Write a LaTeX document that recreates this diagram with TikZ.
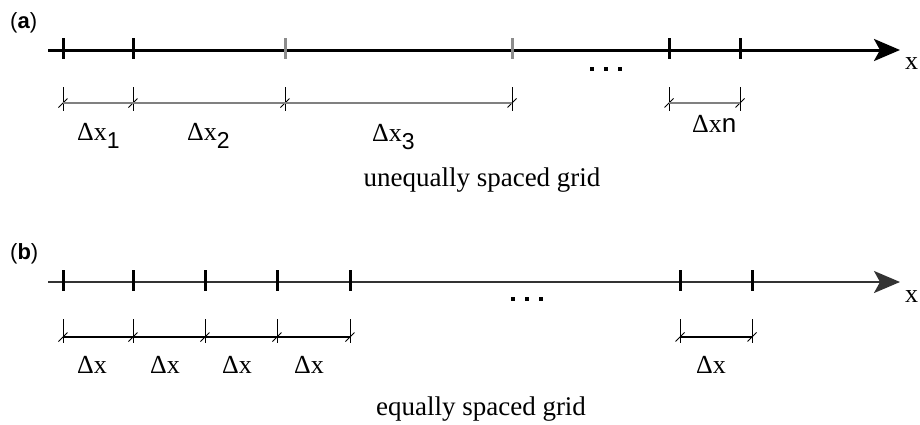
\documentclass[tikz,border=0pt]{standalone}
\usepackage{fontspec}
\setmainfont{Liberation Serif}
\setsansfont{Liberation Sans}
\usetikzlibrary{arrows.meta}
\newcommand{\sub}[1]{\raisebox{-8pt}{\sffamily\fontsize{23}{23}\selectfont #1}}
\begin{document}
\begin{tikzpicture}[x=1pt,y=-1pt,
  axisA/.style={line width=3pt,black,-{Stealth[length=26pt,width=22pt,inset=6pt]}},
  axisB/.style={line width=2pt,black!80,-{Stealth[length=26pt,width=22pt,inset=6pt]}},
  tickmark/.style={line width=3pt,black},
  graytick/.style={line width=3pt,black!45},
  extline/.style={line width=0.9pt,black},
  dimA/.style={line width=1.6pt,black!50},
  dimB/.style={line width=1.4pt,black},
  slash/.style={line width=1pt,black},
  lab/.style={font=\fontsize{26}{26}\selectfont,inner sep=0pt,anchor=base west},
  captext/.style={font=\fontsize{27}{27}\selectfont,inner sep=0pt,anchor=base},
  panel/.style={font=\sffamily\fontsize{22}{22}\selectfont,inner sep=0pt,anchor=north west},
  xlab/.style={font=\fontsize{26}{26}\selectfont,inner sep=0pt,anchor=base west},
  dotfill/.style={fill=black}
]
\useasboundingbox (0,0) rectangle (920,424);

% ---------- panel (a) ----------
\node[panel] (pa) at (10,12) {(\textbf{a})};
\coordinate (a0) at (48,50);
\coordinate (a9) at (900,50);
\draw[axisA] (a0) -- (a9);
\node[xlab] (xa) at (905,69) {x};
\foreach \n/\x in {1/63,2/133,5/669,6/740}{
  \coordinate (at\n) at (\x,50);
  \draw[tickmark] (\x,38) -- (\x,59);
}
\foreach \n/\x in {3/285,4/512}{
  \coordinate (at\n) at (\x,50);
  \draw[graytick] (\x,38) -- (\x,59);
}
\foreach \x in {592,606,620}{\fill[dotfill] (\x-1.8,67.2) rectangle (\x+1.8,70.8);}
% dimension marks
\foreach \n/\x in {1/63,2/133,3/285,4/512,5/669,6/740}{
  \coordinate (ad\n) at (\x,103);
  \draw[extline] (\x,87) -- (\x,111);
  \draw[slash] (\x-4.5,107.5) -- (\x+4.5,98.5);
}
\draw[dimA] (ad1) -- (ad2) -- (ad3) -- (ad4);
\draw[dimA] (ad5) -- (ad6);
\node[lab] (la1) at (77,140) {Δx\sub{1}};
\node[lab] (la2) at (187,140) {Δx\sub{2}};
\node[lab] (la3) at (372,141) {Δx\sub{3}};
\node[lab] (la4) at (692,132) {Δx{\sffamily n}};
\node[captext] (ca) at (482,186) {unequally spaced grid};

% ---------- panel (b) ----------
\node[panel] (pb) at (10,243) {(\textbf{b})};
\coordinate (b0) at (48,282);
\coordinate (b9) at (900,282);
\draw[axisB] (b0) -- (b9);
\node[xlab] (xb) at (905,302) {x};
\foreach \n/\x in {1/63,2/133,3/205,4/277,5/350,6/680,7/752}{
  \coordinate (bt\n) at (\x,282);
  \draw[tickmark] (\x,270) -- (\x,291);
}
\foreach \x in {513,527,541}{\fill[dotfill] (\x-1.8,297.2) rectangle (\x+1.8,300.8);}
\foreach \n/\x in {1/63,2/133,3/205,4/277,5/350,6/680,7/752}{
  \coordinate (bd\n) at (\x,337);
  \draw[extline] (\x,319) -- (\x,343);
  \draw[slash] (\x-4.5,341.5) -- (\x+4.5,332.5);
}
\draw[dimB] (bd1) -- (bd2) -- (bd3) -- (bd4) -- (bd5);
\draw[dimB] (bd6) -- (bd7);
\node[lab] (lb1) at (77,373) {Δx};
\node[lab] (lb2) at (150,373) {Δx};
\node[lab] (lb3) at (222,373) {Δx};
\node[lab] (lb4) at (294,373) {Δx};
\node[lab] (lb5) at (696,373) {Δx};
\node[captext] (cb) at (481,415) {equally spaced grid};
\end{tikzpicture}
\end{document}
